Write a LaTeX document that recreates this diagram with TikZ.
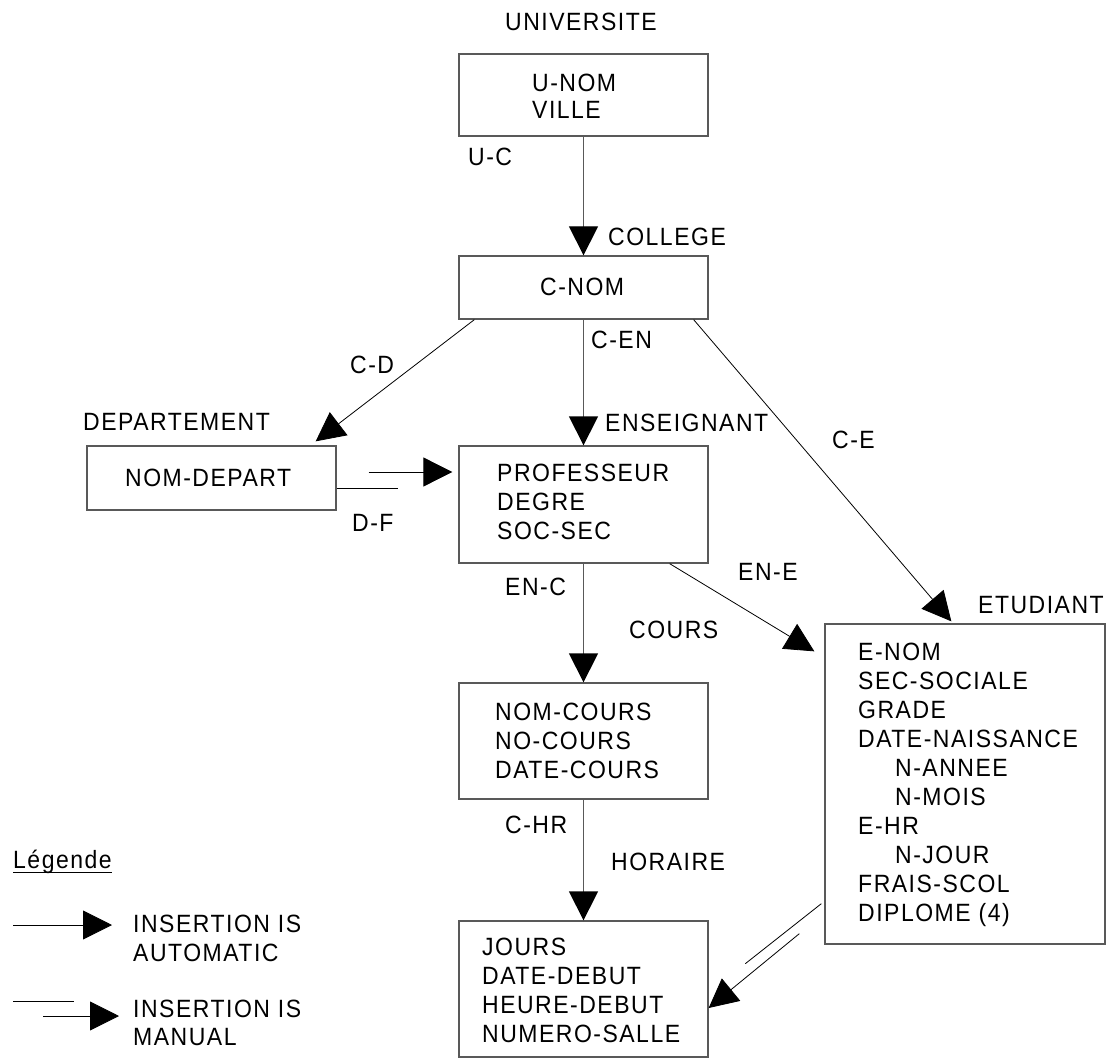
\documentclass[tikz,border=0pt]{standalone}
\usepackage{fontspec}
\setmainfont{Liberation Sans}[LetterSpace=6,FakeStretch=0.92]
\usetikzlibrary{arrows.meta,calc}

\begin{document}
\begin{tikzpicture}[x=1pt,y=-1pt,
  box/.style={draw=black!65,line width=1.3pt,inner sep=0pt,minimum width=249pt},
  lbl/.style={inner sep=0pt,anchor=base west,font=\fontsize{25}{29}\selectfont},
  blk/.style={inner sep=0pt,anchor=north west,align=left,font=\fontsize{25}{29}\selectfont},
  head/.style={-{Triangle[length=29pt,width=29pt,color=black]}},
  vlink/.style={draw=black!65,line width=1.3pt,head},
  dlink/.style={draw=black,line width=0.8pt,head},
  plain/.style={draw=black,line width=0.8pt},
]
\useasboundingbox (0,0) rectangle (1111,1059);

% record boxes
\node[box,minimum height=82pt] (univ) at (583.5,95) {};
\node[box,minimum height=63pt] (college) at (583.5,287.5) {};
\node[box,minimum height=64pt] (dept) at (211.5,478) {};
\node[box,minimum height=117pt] (prof) at (583.5,504.5) {};
\node[box,minimum height=116pt] (cours) at (583.5,741) {};
\node[box,minimum height=136pt] (horaire) at (583.5,989) {};
\node[box,minimum width=280pt,minimum height=320pt] (etud) at (965,784) {};

% record type names
\node[lbl] (tUniv) at (505,30.5) {UNIVERSITE};
\node[lbl] (tCollege) at (608,245.5) {COLLEGE};
\node[lbl] (tDept) at (83,430.5) {DEPARTEMENT};
\node[lbl] (tEns) at (605,431.5) {ENSEIGNANT};
\node[lbl] (tCours) at (629,638.5) {COURS};
\node[lbl] (tEtud) at (978,613.5) {ETUDIANT};
\node[lbl] (tHor) at (611,870.5) {HORAIRE};

% fields
\node[blk,font=\fontsize{25}{27}\selectfont] (fUniv) at (532,74) {U-NOM\\VILLE};
\node[lbl] (fCollege) at (540,296) {C-NOM};
\node[lbl] (fDept) at (125,486.5) {NOM-DEPART};
\node[blk] (fProf) at (497,464) {PROFESSEUR\\DEGRE\\SOC-SEC};
\node[blk] (fCours) at (495,703) {NOM-COURS\\NO-COURS\\DATE-COURS};
\node[blk] (fHor) at (482,938) {JOURS\\DATE-DEBUT\\HEURE-DEBUT\\NUMERO-SALLE};
\node[blk] (fEtud) at (858,643) {E-NOM\\SEC-SOCIALE\\GRADE\\DATE-NAISSANCE\\
  \hspace*{37pt}N-ANNEE\\\hspace*{37pt}N-MOIS\\E-HR\\\hspace*{37pt}N-JOUR\\FRAIS-SCOL\\DIPLOME (4)};

% set names
\node[lbl] (sUC) at (468,165.5) {U-C};
\node[lbl] (sCD) at (350,373.5) {C-D};
\node[lbl] (sCEN) at (591,348.5) {C-EN};
\node[lbl] (sCE) at (832,448.5) {C-E};
\node[lbl] (sDF) at (352,531.5) {D-F};
\node[lbl] (sENC) at (505,595.5) {EN-C};
\node[lbl] (sENE) at (738,580.5) {EN-E};
\node[lbl] (sCHR) at (505,833.5) {C-HR};

% automatic sets
\draw[vlink] (univ.south) -- (college.north);
\draw[vlink] (college.south) -- (prof.north);
\draw[vlink] (prof.south) -- (cours.north);
\draw[vlink] (cours.south) -- (horaire.north);
\draw[dlink] ($(college.south west)+(16,0)$) -- ($(dept.north east)+(-21,-4)$);
\draw[dlink] ($(college.south east)+(-15,0)$) -- ($(etud.north west)+(127,-2)$);
\draw[dlink] ($(prof.south east)+(-39,0)$) -- ($(etud.north west)+(-10,28)$);

% manual sets
\draw[plain] ($(dept.east)+(0,10)$) -- ($(dept.east)+(61,10)$);
\draw[dlink] ($(dept.east)+(32,-6)$) -- ($(prof.west)+(-6,-32.5)$);
\draw[plain] ($(etud.south west)+(-3,-41)$) -- ($(etud.south west)+(-79,19)$);
\draw[dlink] ($(etud.south west)+(-25,-11)$) -- ($(horaire.east)+(0,19)$);

% legend
\node[lbl] (leg) at (13,868) {Légende};
\draw[plain] (leg.base west) ++(0,4) coordinate (ulA) -- ($(leg.base east)+(0,4)$);
\coordinate (autoA) at (13,925);
\coordinate (autoB) at (112,925);
\draw[dlink] (autoA) -- (autoB);
\node[blk] (legAuto) at (133,915) {INSERTION IS\\AUTOMATIC};
\coordinate (manA) at (13,1001);
\coordinate (manB) at (74,1001);
\coordinate (manC) at (43,1016);
\coordinate (manD) at (119,1016);
\draw[plain] (manA) -- (manB);
\draw[dlink] (manC) -- (manD);
\node[blk,font=\fontsize{25}{28}\selectfont] (legMan) at (133,1000) {INSERTION IS\\MANUAL};
\end{tikzpicture}
\end{document}
